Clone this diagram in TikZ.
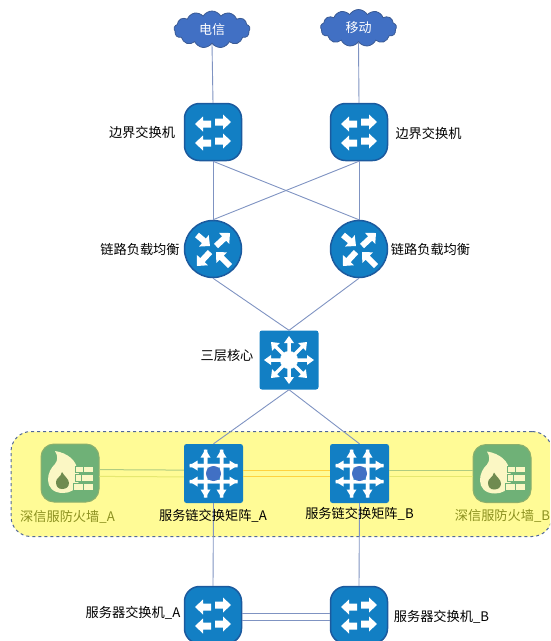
\documentclass[tikz,border=0pt]{standalone}
\usepackage{fontspec}
\setmainfont{Noto Sans CJK SC}
\usetikzlibrary{shapes.symbols}
\definecolor{iconblue}{HTML}{127FC4}
\definecolor{iconedge}{HTML}{1B5A9E}
\definecolor{linkblue}{HTML}{7F93C2}
\definecolor{cloudblue}{HTML}{4170C4}
\definecolor{cloudedge}{HTML}{3A5A94}
\definecolor{boxyellow}{HTML}{FFFB96}
\definecolor{boxedge}{HTML}{51689A}
\definecolor{fwgreen}{HTML}{6FB177}
\definecolor{fwedge}{HTML}{8CB06C}
\definecolor{fwcream}{HTML}{FBF7C4}
\definecolor{fwdark}{HTML}{6F8B50}
\definecolor{fwtext}{HTML}{8C9120}
\definecolor{goldlink}{HTML}{FFD23F}
\definecolor{greenlink}{HTML}{B0CC80}
\definecolor{palelink}{HTML}{E6E870}
\newcommand{\fatarr}[7]{% tail x,y; tip x,y; shaft width; head width; head length
  \pgfmathsetmacro{\fdx}{#3-#1}\pgfmathsetmacro{\fdy}{#4-#2}
  \pgfmathsetmacro{\flen}{veclen(\fdx,\fdy)}
  \pgfmathsetmacro{\fang}{atan2(-\fdy,\fdx)}
  \begin{scope}[shift={(#1,#2)},rotate=\fang]
    \fill[white] (0,-#5/2) -- (\flen-#7,-#5/2) -- (\flen-#7,-#6/2) -- (\flen,0)
      -- (\flen-#7,#6/2) -- (\flen-#7,#5/2) -- (0,#5/2) -- cycle;
  \end{scope}}
\tikzset{
  x=1pt,y=-1pt,
  swbox/.style={draw=iconedge,line width=1.5pt,fill=iconblue,rounded corners=15pt,minimum size=57pt,inner sep=0pt},
  lbdisc/.style={circle,draw=iconedge,line width=1.5pt,fill=iconblue,minimum size=57pt,inner sep=0pt},
  sqbox/.style={draw=none,fill=iconblue,rounded corners=2.5pt,minimum size=59pt,inner sep=0pt},
  fwbox/.style={draw=fwedge,line width=1pt,fill=fwgreen,rounded corners=13pt,minimum size=58pt,inner sep=0pt},
  cloudnode/.style={cloud,cloud puffs=13,cloud puff arc=120,aspect=2.1,draw=cloudedge,line width=.8pt,fill=cloudblue,text=white,font=\fontsize{13}{15}\selectfont,minimum width=76pt,minimum height=37pt,inner sep=0pt},
  lbl/.style={inner sep=0pt,font=\fontsize{13.2}{15}\selectfont,text=black},
  fwlbl/.style={lbl,text=fwtext},
  link/.style={draw=linkblue,line width=.9pt},
  swicon/.pic={
    \fatarr{-2}{-8}{-18}{-8}{7}{15}{8}
    \fatarr{2}{-10}{18}{-10}{7}{15}{8}
    \fatarr{-2}{11}{-18}{11}{7}{15}{8}
    \fatarr{2}{9}{18}{9}{7}{15}{8}},
  lbicon/.pic={
    \fatarr{-16}{-14}{-3}{-3}{6}{15}{8}
    \fatarr{3}{-3}{17}{-16}{6}{15}{8}
    \fatarr{-3}{3}{-16}{17}{6}{15}{8}
    \fatarr{17}{17}{3}{3}{6}{15}{8}},
  coreicon/.pic={
    \fatarr{0}{0}{0}{-24}{3.5}{10}{7}
    \fatarr{0}{0}{0}{24}{3.5}{10}{7}
    \fatarr{0}{0}{-25}{0}{3.5}{10}{7}
    \fatarr{0}{0}{25}{0}{3.5}{10}{7}
    \fatarr{0}{0}{18}{-18}{3.5}{11}{7}
    \fatarr{0}{0}{-18}{-18}{3.5}{11}{7}
    \fatarr{0}{0}{18}{18}{3.5}{11}{7}
    \fatarr{0}{0}{-18}{18}{3.5}{11}{7}
    \fill[white] (0,0) circle[radius=9];},
  mxicon/.pic={
    \fatarr{-8}{24}{-8}{-24}{3.5}{10}{8}
    \fatarr{8}{24}{8}{-24}{3.5}{10}{8}
    \fatarr{-24}{-8}{24}{-8}{3.5}{10}{8}
    \fatarr{24}{8}{-24}{8}{3.5}{10}{8}
    \fatarr{-8}{-24}{-8}{24}{3.5}{10}{8}
    \fatarr{8}{-24}{8}{24}{3.5}{10}{8}
    \fatarr{24}{-8}{-24}{-8}{3.5}{10}{8}
    \fatarr{-24}{8}{24}{8}{3.5}{10}{8}
    \fill[cloudblue] (0,0) circle[radius=7.5];},
  fwicon/.pic={
    \fill[fwcream] (-15,-22) .. controls (-2,-20) and (7,-12) .. (7,-3)
      .. controls (10,1) and (10,6) .. (8,11)
      .. controls (5,17) and (0,20) .. (-7,20)
      .. controls (-17,20) and (-22,14) .. (-22,7)
      .. controls (-22,0) and (-19,-5) .. (-15,-9)
      .. controls (-12,-13) and (-12,-17) .. (-15,-22) -- cycle;
    \fill[fwdark] (-8,-1) .. controls (-6,3) and (-1,6) .. (-1,10)
      .. controls (-1,14) and (-4,16) .. (-8,16)
      .. controls (-12,16) and (-14,13) .. (-14,9)
      .. controls (-14,5) and (-9,4) .. (-8,-1) -- cycle;
    \fill[fwcream,draw=fwgreen,line width=.8pt] (5,-7) rectangle (13,-1) (13,-7) rectangle (23,-1)
      (5,1) rectangle (11,8) (11,1) rectangle (23,8)
      (3,10) rectangle (13,17) (13,10) rectangle (23,17);}
}
\begin{document}
\begin{tikzpicture}
\useasboundingbox (0,0) rectangle (550,641);
\clip (0,0) rectangle (550,641);
\node[draw=boxedge,line width=1pt,dashed,fill=boxyellow,rounded corners=20pt,minimum width=541pt,minimum height=105pt,inner sep=0pt] (zone) at (281.5,484) {};
\node[cloudnode] (cm) at (212,29.5) {电信};
\node[cloudnode] (cu) at (358.5,28) {移动};
\node[swbox] (e1) at (213,132) {};
\node[swbox] (e2) at (359,132) {};
\node[lbdisc] (l1) at (213,249) {};
\node[lbdisc] (l2) at (359,249) {};
\node[sqbox] (core) at (289,360) {};
\node[sqbox] (m1) at (213.5,473.5) {};
\node[sqbox] (m2) at (359.5,473.5) {};
\node[fwbox] (f1) at (70,473) {};
\node[fwbox] (f2) at (502,473.5) {};
\node[swbox] (s1) at (213,615) {};
\node[swbox] (s2) at (359,615) {};
\draw[link] (cm.south) -- (e1.north);
\draw[link] (cu.south) -- (e2.north);
\draw[link] (e1.south) -- (l1.north);
\draw[link] (e2.south) -- (l2.north);
\draw[link] (e1.south) -- (l2.north);
\draw[link] (e2.south) -- (l1.north);
\draw[link] (l1.south) -- (core.north);
\draw[link] (l2.south) -- (core.north);
\draw[link] (core.south) -- (m1.north);
\draw[link] (core.south) -- (m2.north);
\draw[link] (m1.south) -- (s1.north);
\draw[link] (m2.south) -- (s2.north);
\draw[link] ([yshift=1.7pt]s1.east) -- ([yshift=1.7pt]s2.west);
\draw[link] ([yshift=-5pt]s1.east) -- ([yshift=-5pt]s2.west);
\draw[goldlink,line width=1.1pt] ([yshift=3.4pt]m1.east) -- ([yshift=3.4pt]m2.west);
\draw[goldlink,line width=1.1pt] ([yshift=-3.4pt]m1.east) -- ([yshift=-3.4pt]m2.west);
\draw[greenlink,line width=1pt] ([yshift=3.4pt]f1.east) -- ([yshift=3.4pt]m1.west);
\draw[palelink,line width=1pt] ([yshift=-3.4pt]f1.east) -- ([yshift=-3.4pt]m1.west);
\draw[greenlink,line width=1pt] ([yshift=3.4pt]m2.east) -- ([yshift=3.4pt]f2.west);
\draw[palelink,line width=1pt] ([yshift=-3.4pt]m2.east) -- ([yshift=-3.4pt]f2.west);
\pic at (e1) {swicon};
\pic at (e2) {swicon};
\pic at (s1) {swicon};
\pic at (s2) {swicon};
\pic at (l1) {lbicon};
\pic at (l2) {lbicon};
\pic at (core) {coreicon};
\pic at (m1) {mxicon};
\pic at (m2) {mxicon};
\pic at (f1) {fwicon};
\pic at (f2) {fwicon};
\node[lbl] (te1) at (142,132) {边界交换机};
\node[lbl] (te2) at (428.5,133) {边界交换机};
\node[lbl] (tl1) at (140,249) {链路负载均衡};
\node[lbl] (tl2) at (430.5,249) {链路负载均衡};
\node[lbl] (tc) at (227,356) {三层核心};
\node[lbl] (tm1) at (213,516) {服务链交换矩阵\_A};
\node[lbl] (tm2) at (359.5,514) {服务链交换矩阵\_B};
\node[fwlbl] (tf1) at (67.5,517) {深信服防火墙\_A};
\node[fwlbl] (tf2) at (502.5,516) {深信服防火墙\_B};
\node[lbl] (ts1) at (133,613) {服务器交换机\_A};
\node[lbl] (ts2) at (441.5,617) {服务器交换机\_B};
\end{tikzpicture}
\end{document}
